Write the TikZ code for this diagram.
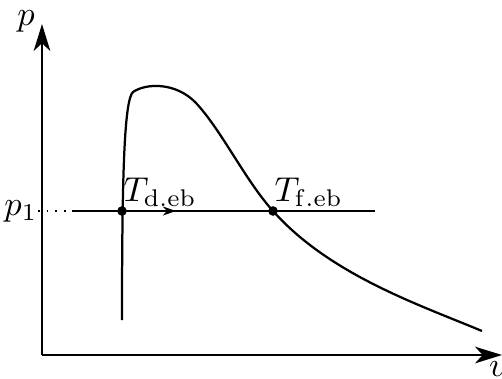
\documentclass[tikz,border=0pt]{standalone}
\usepackage{amsmath,amssymb}
\usepackage{tikz}
\usetikzlibrary{positioning,arrows.meta,calc}

\begin{document}
\begin{tikzpicture}[
    x=0.29pt, y=-0.29pt,
    axis/.style={line width=0.65pt, -{Stealth[length=7.8pt, width=4.8pt, inset=2.2pt]}},
    curve/.style={line width=0.65pt},
    isobar/.style={line width=0.65pt},
    dot/.style={circle, fill=black, inner sep=0pt, minimum size=2.8pt},
    lbl/.style={inner sep=0pt, anchor=base west}]
  \useasboundingbox (0,0) rectangle (502,378);
  % axes
  \coordinate (O) at (42,355);
  \coordinate (ytop) at (42,24);
  \coordinate (xend) at (502,355);
  \draw[axis] (O) -- (ytop);
  \draw[axis] (O) -- (xend);
  \node (plab) at (26,21) {$p$};
  \node (vlab) at (498,369) {$v$};
  % saturation curve
  \draw[curve] (122,320) .. controls (122,180) and (124,100) .. (133,92)
    .. controls (146,83) and (176,82) .. (196,103)
    .. controls (222,131) and (245,180) .. (273,211)
    .. controls (330,275) and (420,305) .. (482,331);
  % isobar p_1
  \node[inner sep=0pt, anchor=east] (p1) at (38,211) {$p_1$};
  \coordinate (a) at (72,211);
  \coordinate (b) at (375,211);
  \coordinate (m) at (176,211);
  \node[dot] (td) at (122,211) {};
  \node[dot] (tf) at (273,211) {};
  \draw[dotted, line width=0.5pt] (p1.east) -- (330,211);
  \draw[isobar] (a) -- (b);
  \draw[isobar, -{Stealth[length=3.8pt, width=2.6pt]}] (a) -- (m);
  % point labels
  \node[lbl] (tdlab) at (123,201) {$T_{\mathrm{d.eb}}$};
  \node[lbl] (tflab) at (274,201) {$T_{\mathrm{f.eb}}$};
\end{tikzpicture}
\end{document}
